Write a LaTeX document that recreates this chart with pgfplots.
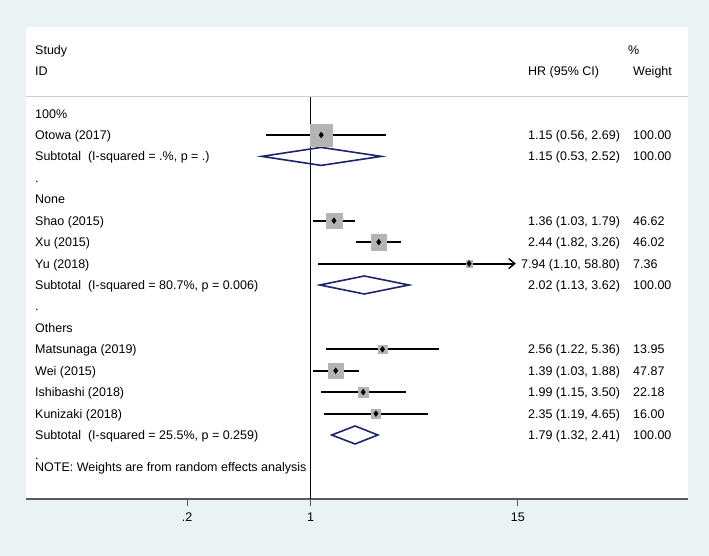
\documentclass[border=0pt]{standalone}
\usepackage{fontspec}
\setmainfont{Liberation Sans}
\usepackage{pgfplots}
\pgfplotsset{compat=1.18}
\usetikzlibrary{arrows.meta}
\definecolor{bgc}{RGB}{234,242,243}
\definecolor{boxc}{RGB}{180,180,180}
\definecolor{dia}{RGB}{28,36,110}
\definecolor{axc}{RGB}{90,90,90}
\definecolor{hdr}{RGB}{205,205,205}
\newcommand\f{\fontsize{12.5bp}{15bp}\selectfont}
\pgfplotsset{wbox/.style={only marks, mark=square*, mark size=#1,
  mark options={solid, draw=boxc, fill=boxc, line width=0.1bp}}}
\begin{document}
\begin{tikzpicture}[x=1bp,y=1bp]
\fill[bgc] (0,0) rectangle (709,556);
\begin{axis}[at={(26bp,57bp)}, anchor=south west, scale only axis,
  width=662bp, height=472bp,
  xmode=log, xmin=0.02437, xmax=138.3, ymin=57, ymax=529,
  axis background/.style={fill=white},
  axis x line*=bottom, axis y line=none,
  x axis line style={draw=axc, line width=1.7bp},
  xtick={0.2,1,15}, xticklabels={.2,1,15}, xminorticks=false,
  xtick align=outside, major tick length=7bp,
  tick style={draw=axc, line width=1bp},
  xticklabel style={font=\f, text=black, yshift=-3bp},
  clip=false]
% header separator
\draw[hdr, line width=1bp] (axis cs:0.02437,459) -- (axis cs:138.3,459);
% null line
\addplot[black, line width=1.1bp] coordinates {(1,57) (1,459)};
% weight boxes
\addplot[wbox=11.35bp] coordinates {(1.15,421)};
\addplot[wbox=7.75bp] coordinates {(1.36,335.3)};
\addplot[wbox=7.7bp] coordinates {(2.44,313.9)};
\addplot[wbox=3.08bp] coordinates {(7.94,292.4)};
\addplot[wbox=4.24bp] coordinates {(2.56,206.7)};
\addplot[wbox=7.85bp] coordinates {(1.39,185.3)};
\addplot[wbox=5.35bp] coordinates {(1.99,163.9)};
\addplot[wbox=4.54bp] coordinates {(2.35,142.4)};
% confidence intervals
\addplot[black, line width=2bp] coordinates {(0.56,421) (2.69,421)};
\addplot[black, line width=2bp] coordinates {(1.03,335.3) (1.79,335.3)};
\addplot[black, line width=2bp] coordinates {(1.82,313.9) (3.26,313.9)};
\addplot[black, line width=2bp, -{Straight Barb[length=6bp, width=10bp, line width=1.4bp]}] coordinates {(1.10,292.4) (14.6,292.4)};
\addplot[black, line width=2bp] coordinates {(1.22,206.7) (5.36,206.7)};
\addplot[black, line width=2bp] coordinates {(1.03,185.3) (1.88,185.3)};
\addplot[black, line width=2bp] coordinates {(1.15,163.9) (3.50,163.9)};
\addplot[black, line width=2bp] coordinates {(1.19,142.4) (4.65,142.4)};
% point estimates
\addplot[only marks, mark=diamond*, mark size=2.9bp, black, mark options={solid, fill=black}] coordinates {(1.15,421) (1.36,335.3) (2.44,313.9) (7.94,292.4) (2.56,206.7) (1.39,185.3) (1.99,163.9) (2.35,142.4)};
% subtotal diamonds
\addplot[dia, line width=1.6bp, line join=miter] coordinates {(0.53,399.6) (1.15,408.6) (2.52,399.6) (1.15,390.6)} -- cycle;
\addplot[dia, line width=1.6bp, line join=miter] coordinates {(1.13,271) (2.02,280) (3.62,271) (2.02,262)} -- cycle;
\addplot[dia, line width=1.6bp, line join=miter] coordinates {(1.32,121) (1.79,130) (2.41,121) (1.79,112)} -- cycle;
\end{axis}
\begin{scope}[every node/.style={font=\f, text=black, inner sep=0pt, anchor=base west}]
\node at (35,501.5) {Study};
\node at (35,480.5) {ID};
\node at (628,501.5) {\%};
\node at (528,480.5) {HR (95\% CI)};
\node at (633,480.5) {Weight};
\node at (35,437.9) {100\%};
\node at (35,416.5) {Otowa (2017)};
\node at (35,395.1) {Subtotal\ \ (I-squared = .\%, p = .)};
\node at (35,373.6) {.};
\node at (35,352.2) {None};
\node at (35,330.8) {Shao (2015)};
\node at (35,309.4) {Xu (2015)};
\node at (35,287.9) {Yu (2018)};
\node at (35,266.5) {Subtotal\ \ (I-squared = 80.7\%, p = 0.006)};
\node at (35,245.1) {.};
\node at (35,223.6) {Others};
\node at (35,202.2) {Matsunaga (2019)};
\node at (35,180.8) {Wei (2015)};
\node at (35,159.4) {Ishibashi (2018)};
\node at (35,137.9) {Kunizaki (2018)};
\node at (35,116.5) {Subtotal\ \ (I-squared = 25.5\%, p = 0.259)};
\node at (35,96.5) {.};
\node at (35,84.5) {NOTE: Weights are from random effects analysis};
% estimates column
\node at (528,416.5) {1.15 (0.56, 2.69)};
\node at (528,395.1) {1.15 (0.53, 2.52)};
\node at (528,330.8) {1.36 (1.03, 1.79)};
\node at (528,309.4) {2.44 (1.82, 3.26)};
\node at (521,287.9) {7.94 (1.10, 58.80)};
\node at (528,266.5) {2.02 (1.13, 3.62)};
\node at (528,202.2) {2.56 (1.22, 5.36)};
\node at (528,180.8) {1.39 (1.03, 1.88)};
\node at (528,159.4) {1.99 (1.15, 3.50)};
\node at (528,137.9) {2.35 (1.19, 4.65)};
\node at (528,116.5) {1.79 (1.32, 2.41)};
% weight column
\node at (633,416.5) {100.00};
\node at (633,395.1) {100.00};
\node at (633,330.8) {46.62};
\node at (633,309.4) {46.02};
\node at (633,287.9) {7.36};
\node at (633,266.5) {100.00};
\node at (633,202.2) {13.95};
\node at (633,180.8) {47.87};
\node at (633,159.4) {22.18};
\node at (633,137.9) {16.00};
\node at (633,116.5) {100.00};
\end{scope}
\end{tikzpicture}
\end{document}
